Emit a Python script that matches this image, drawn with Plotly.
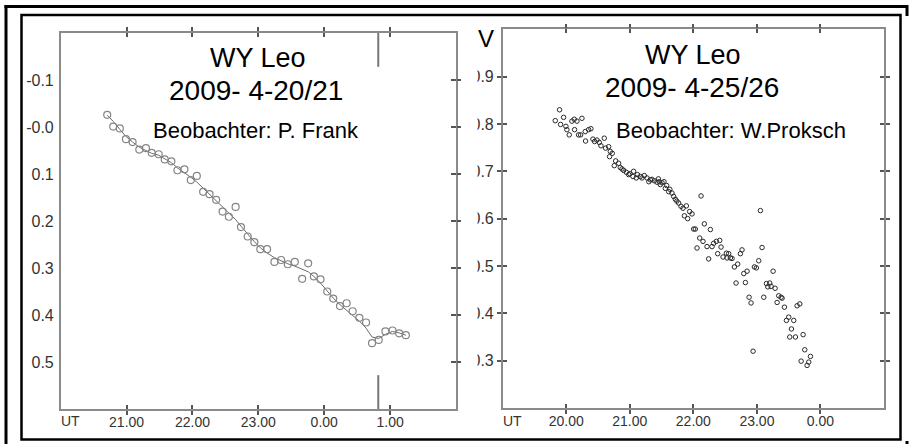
import plotly.graph_objects as go

# ---------------- data ----------------
# Left panel: WY Leo 2009-4-20/21, observer P. Frank (UT hours, 24 = 0.00)
frank_ut = [20.706, 20.797, 20.898, 20.990, 21.091, 21.193, 21.294, 21.381, 21.487, 21.579,
            21.680, 21.772, 21.878, 21.975, 22.066, 22.162, 22.259, 22.360, 22.457, 22.553,
            22.655, 22.736, 22.838, 22.939, 23.030, 23.132, 23.244, 23.345, 23.447, 23.553,
            23.665, 23.756, 23.843, 23.944, 24.046, 24.137, 24.239, 24.340, 24.431, 24.533,
            24.635, 24.726, 24.827, 24.929, 25.036, 25.137, 25.239]
frank_mag = [-0.026, -0.001, 0.003, 0.026, 0.032, 0.048, 0.045, 0.055, 0.058, 0.069,
             0.073, 0.092, 0.090, 0.113, 0.104, 0.138, 0.143, 0.155, 0.180, 0.191,
             0.170, 0.213, 0.233, 0.245, 0.260, 0.260, 0.287, 0.283, 0.292, 0.287,
             0.323, 0.290, 0.318, 0.324, 0.350, 0.365, 0.381, 0.375, 0.392, 0.406,
             0.416, 0.460, 0.453, 0.435, 0.433, 0.439, 0.443]
frank_fit = [-0.025, -0.012, 0.005, 0.020, 0.032, 0.043, 0.050, 0.056, 0.060, 0.067,
             0.076, 0.087, 0.097, 0.107, 0.117, 0.130, 0.143, 0.157, 0.171, 0.184,
             0.197, 0.211, 0.228, 0.244, 0.257, 0.268, 0.278, 0.285, 0.291, 0.296,
             0.302, 0.308, 0.318, 0.332, 0.349, 0.364, 0.378, 0.390, 0.401, 0.413,
             0.428, 0.447, 0.450, 0.441, 0.435, 0.438, 0.443]
frank_marker_ut = 24.82

# Right panel: WY Leo 2009-4-25/26, observer W. Proksch
proksch_ut = [19.827, 19.895, 19.958, 19.911, 19.995, 20.010, 20.047, 20.089, 20.126, 20.168,
              20.131, 20.247, 20.194, 20.226, 20.299, 20.304, 20.352, 20.388, 20.420, 20.446,
              20.483, 20.520, 20.546, 20.598, 20.619, 20.667, 20.693, 20.682, 20.724, 20.756,
              20.777, 20.824, 20.850, 20.877, 20.903, 20.945, 20.982, 21.000, 21.060, 21.050,
              21.102, 21.120, 21.165, 21.192, 21.228, 21.270, 21.300, 21.323, 21.349, 21.386,
              21.428, 21.450, 21.465, 21.480, 21.507, 21.538, 21.559, 21.580, 21.612, 21.630,
              21.664, 21.690, 21.717, 21.740, 21.769, 21.806, 21.837, 21.890, 21.858, 21.911,
              21.942, 21.979, 22.121, 22.005, 22.031, 22.173, 22.268, 22.100, 22.152, 22.058,
              22.215, 22.294, 22.320, 22.362, 22.415, 22.436, 22.241, 22.383, 22.467, 22.520,
              22.556, 22.530, 22.583, 22.609, 22.646, 22.698, 22.672, 22.740, 22.766, 22.793,
              22.845, 22.819, 22.877, 22.908, 22.940, 22.961, 22.992, 23.029, 23.055, 23.081,
              23.108, 23.150, 23.171, 23.202, 23.223, 23.255, 23.286, 23.318, 23.344, 23.381,
              23.396, 23.433, 23.465, 23.501, 23.517, 23.543, 23.580, 23.606, 23.633, 23.675,
              23.727, 23.753, 23.696, 23.790, 23.816, 23.843]
proksch_mag = [0.807, 0.830, 0.814, 0.799, 0.795, 0.788, 0.777, 0.806, 0.810, 0.806,
               0.788, 0.812, 0.777, 0.777, 0.784, 0.764, 0.788, 0.790, 0.768, 0.763,
               0.766, 0.761, 0.754, 0.770, 0.749, 0.752, 0.742, 0.731, 0.738, 0.712,
               0.722, 0.717, 0.708, 0.705, 0.702, 0.698, 0.693, 0.695, 0.700, 0.689,
               0.686, 0.693, 0.689, 0.686, 0.691, 0.686, 0.678, 0.682, 0.683, 0.680,
               0.677, 0.684, 0.678, 0.672, 0.676, 0.678, 0.664, 0.670, 0.657, 0.662,
               0.654, 0.647, 0.641, 0.637, 0.633, 0.626, 0.622, 0.627, 0.606, 0.600,
               0.615, 0.610, 0.648, 0.578, 0.578, 0.589, 0.577, 0.559, 0.552, 0.538,
               0.541, 0.541, 0.548, 0.552, 0.554, 0.540, 0.515, 0.526, 0.519, 0.527,
               0.526, 0.517, 0.517, 0.516, 0.498, 0.504, 0.464, 0.526, 0.534, 0.484,
               0.489, 0.465, 0.434, 0.422, 0.320, 0.498, 0.496, 0.511, 0.617, 0.539,
               0.434, 0.463, 0.456, 0.464, 0.457, 0.489, 0.453, 0.423, 0.437, 0.434,
               0.432, 0.413, 0.385, 0.392, 0.350, 0.367, 0.385, 0.350, 0.416, 0.420,
               0.355, 0.323, 0.299, 0.290, 0.297, 0.309]

# tick labels
left_xticks = [21, 22, 23, 24, 25]
left_xtext = ["21.00", "22.00", "23.00", "0.00", "1.00"]
left_yticks = [-0.1, 0.0, 0.1, 0.2, 0.3, 0.4, 0.5]
left_ytext = ["-0.1", "-0.0", "0.1", "0.2", "0.3", "0.4", "0.5"]
right_xticks = [20, 21, 22, 23, 24]
right_xtext = ["20.00", "21.00", "22.00", "23.00", "0.00"]
right_yticks = [0.3, 0.4, 0.5, 0.6, 0.7, 0.8, 0.9]
right_ytext = ["0.3", "0.4", "0.5", "0.6", "0.7", "0.8", "0.9"]

left_xrange = [20, 26]
left_yrange = [0.6, -0.2]   # reversed (brighter up)
right_xrange = [19, 25]
right_yrange = [0.2, 1.0]

# ---------------- figure ----------------
W, H = 909, 444
FONT = "Liberation Sans, Arial, sans-serif"
FRAME = "#8a8a8a"
TICKC = "#555555"


def px(x):
    return x / W


def py(y):
    return 1 - y / H


L_XDOM = [px(60.7), px(456)]
L_YDOM = [py(409), py(33)]
R_XDOM = [px(502.7), px(884)]
R_YDOM = [py(408), py(29.3)]

fig = go.Figure()
fig.add_trace(go.Scatter(x=frank_ut, y=frank_fit, mode="lines",
                         line=dict(color="#6a6a6a", width=1), xaxis="x", yaxis="y",
                         hoverinfo="skip"))
fig.add_trace(go.Scatter(x=frank_ut, y=frank_mag, mode="markers",
                         marker=dict(symbol="circle-open", size=7, color="#858585",
                                     line=dict(width=1.2, color="#858585")),
                         xaxis="x", yaxis="y"))
fig.add_trace(go.Scatter(x=proksch_ut, y=proksch_mag, mode="markers",
                         marker=dict(symbol="circle-open", size=4.5, color="#2a2a2a",
                                     line=dict(width=1, color="#2a2a2a")),
                         xaxis="x2", yaxis="y2"))
# empty traces so the overlay (inner-tick) axes are drawn
for xa, ya in [("x3", "y"), ("x", "y3"), ("x", "y4"), ("x4", "y2"), ("x2", "y5")]:
    fig.add_trace(go.Scatter(x=[None], y=[None], xaxis=xa, yaxis=ya, hoverinfo="skip",
                             mode="markers"))

XTF = dict(family=FONT, size=14, color="#333333")
YTF = dict(family=FONT, size=16, color="#333333")
base = dict(showgrid=False, zeroline=False, linecolor=FRAME, linewidth=1.5,
            tickcolor=TICKC, tickwidth=1.5)
inner = dict(showgrid=False, zeroline=False, showline=False, showticklabels=False,
             ticks="inside", tickcolor=TICKC, tickwidth=1.5, tickmode="array")

fig.update_layout(
    width=W, height=H, margin=dict(l=0, r=0, t=0, b=0),
    paper_bgcolor="white", plot_bgcolor="white", showlegend=False,
    font=dict(family=FONT),
    # left panel
    xaxis=dict(domain=L_XDOM, anchor="y", range=left_xrange, showline=True,
               ticks="outside", ticklen=4, mirror="ticks",
               tickmode="array", tickvals=left_xticks, ticktext=left_xtext,
               tickfont=XTF, ticklabelstandoff=-5, **base),
    xaxis3=dict(overlaying="x", anchor="y", range=left_xrange, tickvals=left_xticks,
                ticklen=4, mirror="ticks", **inner),
    yaxis=dict(domain=L_YDOM, anchor="x", range=left_yrange, showline=True, mirror=True,
               ticks="", tickmode="array", tickvals=left_yticks, ticktext=left_ytext,
               tickfont=YTF, ticklabelstandoff=2, **base),
    yaxis3=dict(overlaying="y", anchor="x", side="right", range=left_yrange,
                showgrid=False, zeroline=False, showline=False, showticklabels=False,
                ticks="outside", ticklen=5, tickcolor=TICKC, tickwidth=1.5,
                tickmode="array", tickvals=left_yticks),
    yaxis4=dict(overlaying="y", anchor="x", side="right", range=left_yrange,
                tickvals=left_yticks, ticklen=5, **inner),
    # right panel
    xaxis2=dict(domain=R_XDOM, anchor="y2", range=right_xrange, showline=True,
                ticks="outside", ticklen=4, mirror="ticks",
                tickmode="array", tickvals=right_xticks, ticktext=right_xtext,
                tickfont=XTF, ticklabelstandoff=-5, **base),
    xaxis4=dict(overlaying="x2", anchor="y2", range=right_xrange, tickvals=right_xticks,
                ticklen=4, mirror="ticks", **inner),
    yaxis2=dict(domain=R_YDOM, anchor="x2", range=right_yrange, showline=True,
                ticks="outside", ticklen=4, mirror="ticks",
                tickmode="array", tickvals=right_yticks, ticktext=right_ytext,
                tickfont=YTF, ticklabelstandoff=0, **base),
    yaxis5=dict(overlaying="y2", anchor="x2", range=right_yrange, tickvals=right_yticks,
                ticklen=4, mirror="ticks", **inner),
)

shapes = []
# minimum marker segments (left panel)
shapes.append(dict(type="line", xref="x", yref="y domain", x0=frank_marker_ut, x1=frank_marker_ut,
                   y0=0.91, y1=1, line=dict(color="#777777", width=2)))
shapes.append(dict(type="line", xref="x", yref="y domain", x0=frank_marker_ut, x1=frank_marker_ut,
                   y0=0, y1=0.09, line=dict(color="#777777", width=2)))

# clip of the right panel tick labels (left part hidden behind the left picture)
shapes.append(dict(type="rect", xref="paper", yref="paper", x0=px(461), x1=px(477.5),
                   y0=py(415), y1=py(20), fillcolor="white", line=dict(width=0), layer="above"))

# black frames of the composite
shapes.append(dict(type="line", xref="paper", yref="paper", x0=px(4.5), x1=px(907), y0=py(6.5), y1=py(6.5),
                   line=dict(color="black", width=3), layer="above"))
shapes.append(dict(type="line", xref="paper", yref="paper", x0=px(6), x1=px(6), y0=py(5), y1=py(444),
                   line=dict(color="black", width=3), layer="above"))
shapes.append(dict(type="rect", xref="paper", yref="paper", x0=px(21.5), x1=px(900.5), y0=py(439.5), y1=py(15),
                   line=dict(color="black", width=2.5), layer="above"))
shapes.append(dict(type="line", xref="paper", yref="paper", x0=px(907), x1=px(907), y0=py(5), y1=py(16),
                   line=dict(color="black", width=3), layer="above"))
shapes.append(dict(type="line", xref="paper", yref="paper", x0=px(907), x1=px(907), y0=py(441), y1=py(444),
                   line=dict(color="black", width=3), layer="above"))
fig.update_layout(shapes=shapes)

ann = []
def text(x, y, s, size, color="black"):
    ann.append(dict(x=px(x), y=py(y), xref="paper", yref="paper", text=s, showarrow=False,
                    xanchor="center", yanchor="middle",
                    font=dict(family=FONT, size=size, color=color)))

text(258, 58, "WY Leo", 27)
text(256, 90, "2009- 4-20/21", 28)
text(256, 130, "Beobachter: P. Frank", 22)
text(693, 55, "WY Leo", 27)
text(692, 87, "2009- 4-25/26", 28)
text(731, 130, "Beobachter: W.Proksch", 22)
text(70, 421, "UT", 14, "#333333")
text(512, 421, "UT", 14, "#333333")
text(486, 38, "V", 24)
fig.update_layout(annotations=ann)

fig.write_html("out.html", config={"displayModeBar": False},
               post_script="document.body.style.margin='0';document.body.style.overflow='hidden';")
